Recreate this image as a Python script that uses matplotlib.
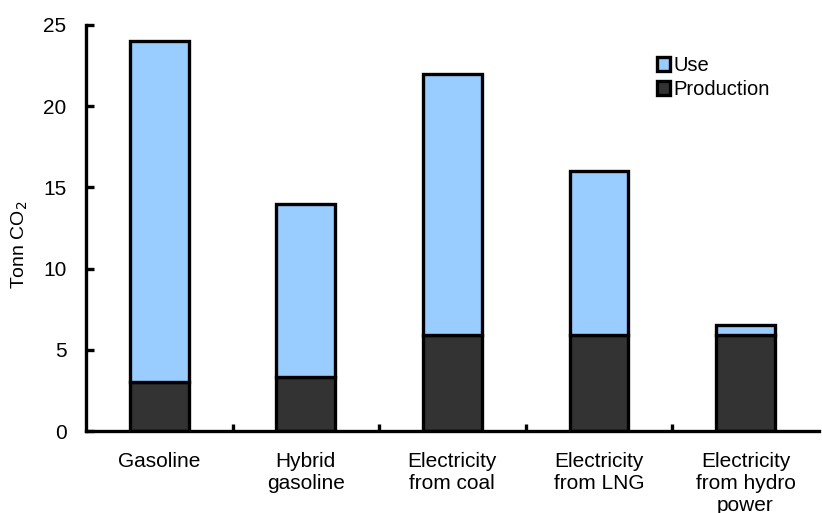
import matplotlib
matplotlib.use("Agg")
import matplotlib.pyplot as plt
import numpy as np

plt.rcParams["font.family"] = ["Liberation Sans", "DejaVu Sans"]

categories = ["Gasoline", "Hybrid\ngasoline", "Electricity\nfrom coal",
              "Electricity\nfrom LNG", "Electricity\nfrom hydro\npower"]
production = [3.0, 3.3, 5.9, 5.9, 5.9]
use = [21.0, 10.7, 16.1, 10.1, 0.6]

fig = plt.figure(figsize=(8.22, 5.13), dpi=100)
ax = fig.add_axes([0.1046, 0.1598, 0.8914, 0.7915])

x = np.arange(len(categories))
ax.bar(x, production, width=0.4, color="#333333", edgecolor="black",
       linewidth=2.4, label="Production")
ax.bar(x, use, width=0.4, bottom=production, color="#99CCFF",
       edgecolor="black", linewidth=2.4, label="Use")

ax.set_xlim(-0.5, 4.5)
ax.set_ylim(0, 25)
ax.set_yticks([0, 5, 10, 15, 20, 25])
ax.set_xticks(x)
ax.set_xticklabels(categories, fontsize=15, va="top", linespacing=1.2)
ax.set_xticks(np.arange(0.5, 4.5, 1), minor=True)
ax.tick_params(axis="x", which="major", length=0, pad=15)
ax.tick_params(axis="x", which="minor", direction="in", length=5, width=2.4)
ax.tick_params(axis="y", direction="in", length=6, width=2.4, labelsize=15, pad=14)

for side in ["top", "right"]:
    ax.spines[side].set_visible(False)
for side in ["left", "bottom"]:
    ax.spines[side].set_linewidth(2.4)

ax.set_ylabel("Tonn CO$_2$", fontsize=14)
ax.yaxis.set_label_coords(-0.077, 0.46)

handles, labels = ax.get_legend_handles_labels()
ax.legend(handles[::-1], labels[::-1], loc="upper left",
          bbox_to_anchor=(0.754, 0.968), frameon=False, fontsize=14.5,
          handlelength=0.65, handleheight=0.65, handletextpad=0.2,
          labelspacing=0.25)

fig.savefig("out.png", dpi=100)
